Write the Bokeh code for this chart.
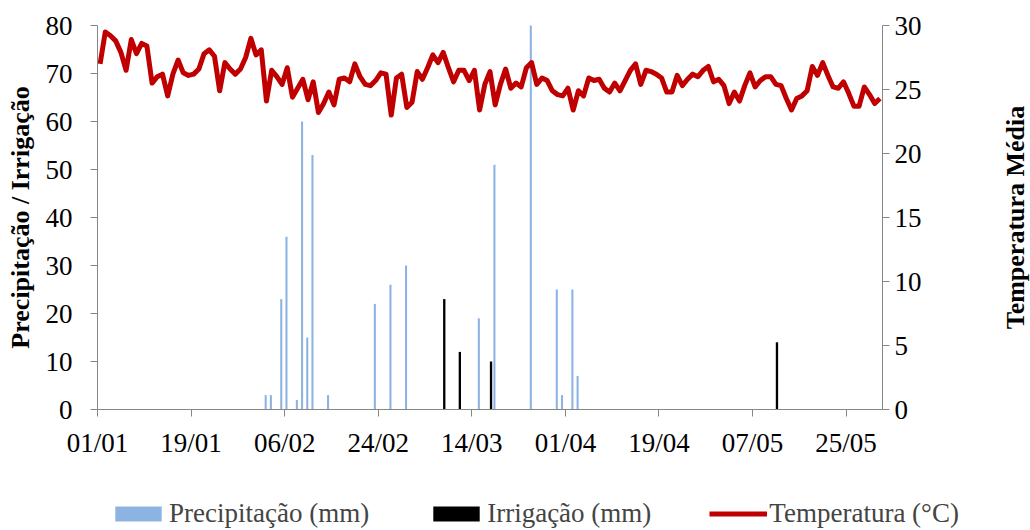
import math
from bokeh.plotting import figure
from bokeh.models import Range1d, LinearAxis, FixedTicker, Legend, LegendItem, Label
from bokeh.embed import file_html
from bokeh.resources import INLINE

FONT = "Liberation Serif"

# x tick labels (every 18 days starting 01/01)
tick_labels = ["01/01", "19/01", "06/02", "24/02", "14/03", "01/04", "19/04", "07/05", "25/05"]
tick_step = 18

# Precipitation (mm): day index from 01/01 and value
precip_days = [32, 33, 35, 36, 38, 39, 40, 41, 44, 53, 56, 59, 73, 76, 83, 88, 89, 91, 92]
precip_vals = [3, 3, 23, 36, 2, 60, 15, 53, 3, 22, 26, 30, 19, 51, 80, 25, 3, 25, 7]

# Irrigation (mm)
irrig_days = [66, 69, 75, 130]
irrig_vals = [23, 12, 10, 14]

# Daily mean temperature (°C), 01/01 .. 31/05
temp = [
    27.0, 29.5, 29.2, 28.8, 27.9, 26.5, 28.9, 27.8, 28.6, 28.4,
    25.5, 26.0, 26.2, 24.5, 26.2, 27.3, 26.3, 26.1, 26.2, 26.6,
    27.8, 28.1, 27.6, 24.9, 27.1, 26.6, 26.2, 26.6, 27.5, 29.0,
    27.7, 28.1, 24.1, 26.5, 26.0, 25.4, 26.7, 24.4,
    25.1, 25.8, 24.2, 25.6, 23.2, 23.9, 24.8, 23.8, 25.8, 25.9,
    25.6, 27.0, 26.0, 25.4, 25.3, 25.7, 26.3, 26.2, 23.0, 25.9,
    26.2, 23.6, 24.0, 26.4, 25.8, 26.7, 27.7, 27.1, 27.9, 26.7,
    25.6, 26.5, 26.5, 25.7, 26.5, 23.4, 25.4, 26.4,
    23.8, 25.4, 26.6, 25.1, 25.5, 25.2, 26.7, 27.1, 25.4, 25.9,
    25.7, 24.9, 24.6, 24.5, 25.1, 23.4, 24.9, 24.5, 25.9, 25.7,
    25.8, 25.1, 24.8, 25.5, 24.9, 25.7, 26.5, 27.0, 25.4, 26.5,
    26.4, 26.2, 25.9, 24.8, 24.8, 26.1, 25.3,
    25.8, 26.2, 26.0, 26.5, 26.8, 25.6, 25.8, 25.3, 23.9, 24.8,
    24.1, 25.3, 26.3, 25.2, 25.7, 26.0, 26.0, 25.4, 25.3, 24.3,
    23.4, 24.3, 24.5, 24.9, 26.8, 26.1, 27.1, 26.1, 25.2, 25.1,
    25.6, 24.7, 23.7, 23.7, 25.2, 24.6, 23.9, 24.3,
]

n_days = len(temp)
Y_MAX, T_MAX = 80, 30

# page layout (pixels): the frame fills the whole canvas, the axes are placed at fixed locations
W, H = 1030, 530
PLOT_L, PLOT_R, PLOT_T, PLOT_B = 97, 882, 25, 409
px_day = (PLOT_R - PLOT_L) / n_days
px_y = (PLOT_B - PLOT_T) / Y_MAX
px_t = (PLOT_B - PLOT_T) / T_MAX

p = figure(width=W, height=H, output_backend="svg", toolbar_location=None, tools="",
           x_range=Range1d(-PLOT_L / px_day, n_days + (W - PLOT_R) / px_day),
           y_range=Range1d(-(H - PLOT_B) / px_y, Y_MAX + PLOT_T / px_y),
           min_border=0)
p.extra_y_ranges = {"temp": Range1d(-(H - PLOT_B) / px_t, T_MAX + PLOT_T / px_t)}
p.outline_line_color = None
p.xgrid.visible = False
p.ygrid.visible = False
p.background_fill_color = "white"
p.border_fill_color = "white"

AX = "#868686"

def style(ax, size="27px"):
    ax.axis_line_color = AX
    ax.major_tick_line_color = AX
    ax.minor_tick_line_color = None
    ax.major_tick_in = 0
    ax.major_tick_out = 7
    ax.major_label_text_font = FONT
    ax.major_label_text_font_size = size
    ax.major_label_text_color = "black"
    ax.axis_label_text_font = FONT
    ax.axis_label_text_font_style = "bold"
    ax.axis_label_text_font_size = "26px"
    ax.axis_label_text_color = "black"

# bars
r_p = p.vbar(x=[d + 0.35 for d in precip_days], top=precip_vals, width=0.4,
             fill_color="#8DB3E2", line_color=None)
r_i = p.vbar(x=[d + 0.7 for d in irrig_days], top=irrig_vals, width=0.45,
             fill_color="#000000", line_color=None)
# temperature line
r_t = p.line(x=[d + 0.5 for d in range(n_days)], y=temp, y_range_name="temp",
             line_color="#C00000", line_width=5, line_join="round")

# x axis
xa = p.xaxis[0]
style(xa)
xa.fixed_location = 0
xa.bounds = (0, n_days)
xa.ticker = FixedTicker(ticks=[i * tick_step for i in range(len(tick_labels))])
xa.major_label_overrides = {i * tick_step: lab for i, lab in enumerate(tick_labels)}
xa.major_label_standoff = 11

# left axis
ya = p.yaxis[0]
style(ya)
ya.fixed_location = 0
ya.bounds = (0, Y_MAX)
ya.ticker = FixedTicker(ticks=list(range(0, Y_MAX + 1, 10)))
ya.major_label_standoff = 18
ya.axis_label = "Precipitação / Irrigação"
ya.axis_label_standoff = 8

# right axis
ra = LinearAxis(y_range_name="temp")
style(ra)
ra.fixed_location = n_days
ra.bounds = (0, T_MAX)
ra.ticker = FixedTicker(ticks=list(range(0, T_MAX + 1, 5)))
ra.major_label_standoff = 5
p.add_layout(ra, "right")

# right-hand axis title, reading bottom to top
p.add_layout(Label(x=n_days + (1015 - PLOT_R) / px_day, y=Y_MAX / 2, text="Temperatura Média",
                   angle=math.pi / 2, text_align="center", text_baseline="middle",
                   text_font=FONT, text_font_style="bold", text_font_size="26px",
                   text_color="black"))

legend = Legend(items=[LegendItem(label="Precipitação (mm)", renderers=[r_p]),
                       LegendItem(label="Irrigação (mm)", renderers=[r_i]),
                       LegendItem(label="Temperatura (°C)", renderers=[r_t])],
                orientation="horizontal", location=(109, 1), margin=0, padding=0,
                glyph_width=58, glyph_height=19, label_standoff=2, spacing=58,
                border_line_color=None, background_fill_alpha=0,
                label_text_font=FONT, label_text_font_size="27px")
p.add_layout(legend)

open("out.html", "w").write(file_html(p, INLINE))
